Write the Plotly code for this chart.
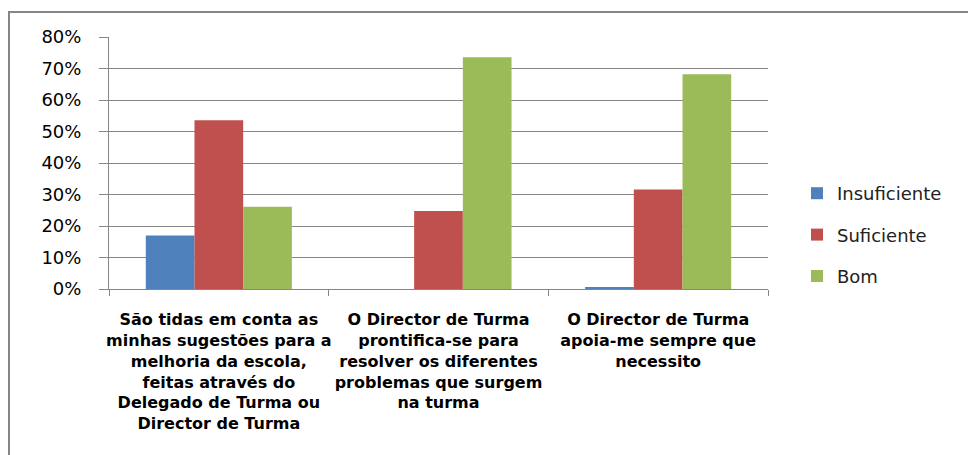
import plotly.graph_objects as go

categories = [
    "São tidas em conta as<br>minhas sugestões para a<br>melhoria da escola,<br>feitas através do<br>Delegado de Turma ou<br>Director de Turma",
    "O Director de Turma<br>prontifica-se para<br>resolver os diferentes<br>problemas que surgem<br>na turma",
    "O Director de Turma<br>apoia-me sempre que<br>necessito",
]
series_names = ["Insuficiente", "Suficiente", "Bom"]
insuficiente = [0.170, 0.0, 0.005]
suficiente = [0.536, 0.248, 0.316]
bom = [0.261, 0.736, 0.682]
colors = ["#4F81BD", "#C0504D", "#9BBB59"]
y_ticks = [0, 0.1, 0.2, 0.3, 0.4, 0.5, 0.6, 0.7, 0.8]

fig = go.Figure()
for i, (name, vals) in enumerate(zip(series_names, [insuficiente, suficiente, bom])):
    fig.add_trace(go.Bar(
        x=categories, y=vals, name=name, legendgroup=name,
        marker=dict(color=colors[i], line=dict(width=0)),
    ))

# page has an 8px body margin; figure coordinates are page coordinates minus OFF
OFF = 8
W, H = 976 - OFF, 455 - OFF
plot_left, plot_right, plot_top, plot_bottom = 109, 768, 37, 289  # page px
L = plot_left - OFF
T = plot_top - OFF
R = W - (plot_right - OFF)
B = H - (plot_bottom - OFF)
pw, ph = W - L - R, H - T - B

def px_to_paper_x(px):
    return (px - plot_left) / pw

def px_to_paper_y(py):
    return (plot_bottom - py) / ph

fig.update_layout(
    width=W, height=H,
    margin=dict(l=L, r=R, t=T, b=B, autoexpand=False),
    paper_bgcolor="white", plot_bgcolor="white",
    barmode="group", bargap=0.335, bargroupgap=0,
    font=dict(family="DejaVu Sans", color="#000000"),
    showlegend=True,
    legend=dict(
        x=px_to_paper_x(797), y=px_to_paper_y(175), xanchor="left", yanchor="top",
        font=dict(size=18, family="DejaVu Sans", color="#222222"),
        tracegroupgap=15, bgcolor="rgba(0,0,0,0)",
    ),
    xaxis=dict(
        type="category", showgrid=False, showline=True, linecolor="#868686", linewidth=1,
        ticks="outside", tickson="boundaries", ticklen=6, tickcolor="#868686",
        tickfont=dict(size=16, family="DejaVu Sans", color="#000000", weight="bold"),
        ticklabelstandoff=16, tickangle=0,
    ),
    yaxis=dict(
        range=[0, 0.8], tickvals=y_ticks, tickformat=".0%",
        showgrid=True, gridcolor="#868686", gridwidth=1,
        showline=True, linecolor="#868686", linewidth=1,
        ticks="outside", ticklen=9, tickcolor="#868686",
        tickfont=dict(size=18, family="DejaVu Sans", color="#000000"),
        ticklabelstandoff=14, zeroline=False,
    ),
    shapes=[
        dict(type="line", xref="paper", yref="paper",
             x0=px_to_paper_x(8), x1=px_to_paper_x(990), y0=px_to_paper_y(12), y1=px_to_paper_y(12),
             line=dict(color="#868686", width=2)),
        dict(type="line", xref="paper", yref="paper",
             x0=px_to_paper_x(9), x1=px_to_paper_x(9), y0=px_to_paper_y(12), y1=px_to_paper_y(470),
             line=dict(color="#868686", width=2)),
    ],
)

fig.write_html("out.html")
